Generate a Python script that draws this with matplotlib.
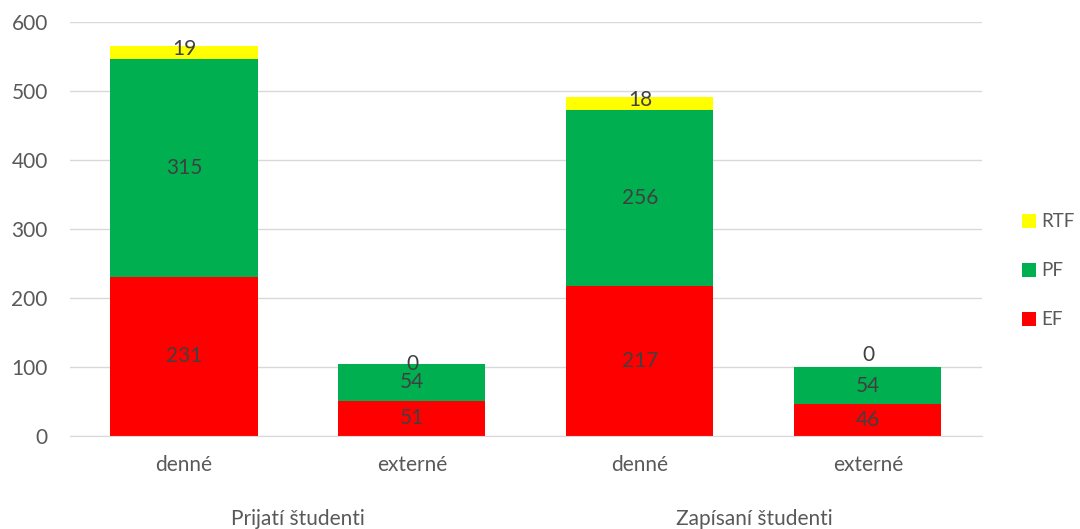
import matplotlib
matplotlib.use("Agg")
import matplotlib.pyplot as plt
import numpy as np

categories = ["denné", "externé", "denné", "externé"]
groups = ["Prijatí študenti", "Zapísaní študenti"]
ef = [231, 51, 217, 46]
pf = [315, 54, 256, 54]
rtf = [19, 0, 18, 0]
yticks = [0, 100, 200, 300, 400, 500, 600]

plt.rcParams['font.family'] = ['Lato', 'DejaVu Sans']
txt = '#595959'
lab = '#404040'
fs = 15

fig = plt.figure(figsize=(10.8, 5.29), dpi=100)
ax = fig.add_axes([0.0648, 0.1758, 0.8444, 0.7826])

x = np.arange(len(categories))
w = 0.645
ef_a = np.array(ef); pf_a = np.array(pf); rtf_a = np.array(rtf)
b1 = ax.bar(x, ef_a, w, color='#FF0000', label='EF', zorder=2)
b2 = ax.bar(x, pf_a, w, bottom=ef_a, color='#00B050', label='PF', zorder=2)
b3 = ax.bar(x, rtf_a, w, bottom=ef_a + pf_a, color='#FFFF00', label='RTF', zorder=2)

for i in range(len(x)):
    ax.text(x[i], ef_a[i] / 2, str(ef[i]), ha='center', va='center', fontsize=fs, color=lab, zorder=3)
    ax.text(x[i], ef_a[i] + pf_a[i] / 2, str(pf[i]), ha='center', va='center', fontsize=fs, color=lab, zorder=3)
    top = ef_a[i] + pf_a[i]
    if rtf[i] > 0:
        ax.text(x[i], top + rtf_a[i] / 2 + 5, str(rtf[i]), ha='center', va='center', fontsize=fs, color=lab, zorder=3)
    else:
        off = 0 if i == 1 else 18
        ax.text(x[i], top + off, str(rtf[i]), ha='center', va='center', fontsize=fs, color=lab, zorder=3)

ax.set_xlim(-0.5, 3.5)
ax.set_ylim(0, 600)
ax.set_yticks(yticks)
ax.set_yticklabels([str(v) for v in yticks], fontsize=fs, color=txt)
ax.yaxis.grid(True, color='#D9D9D9', linewidth=1, zorder=0)
ax.set_axisbelow(True)
for s in ['top', 'right', 'left']:
    ax.spines[s].set_visible(False)
ax.spines['bottom'].set_color('#D9D9D9')
ax.tick_params(axis='y', length=0, pad=16)
ax.tick_params(axis='x', length=0, pad=14)
ax.set_xticks(x)
ax.set_xticklabels(categories, fontsize=fs, color=txt)

for gi, g in enumerate(groups):
    cx = (x[2 * gi] + x[2 * gi + 1]) / 2
    ax.annotate(g, xy=(cx, 0), xycoords=('data', 'axes fraction'),
                xytext=(0, -83), textcoords='offset pixels',
                ha='center', va='center', fontsize=fs, color=txt)

handles = [b3, b2, b1]
leg = fig.legend(handles, ['RTF', 'PF', 'EF'], loc='center left', bbox_to_anchor=(0.946, 0.488),
                 frameon=False, fontsize=13.5, labelcolor=txt, handlelength=0.75, handleheight=0.75,
                 handletextpad=0.3, labelspacing=1.7, borderaxespad=0, borderpad=0)

fig.savefig('out.png', dpi=100)
